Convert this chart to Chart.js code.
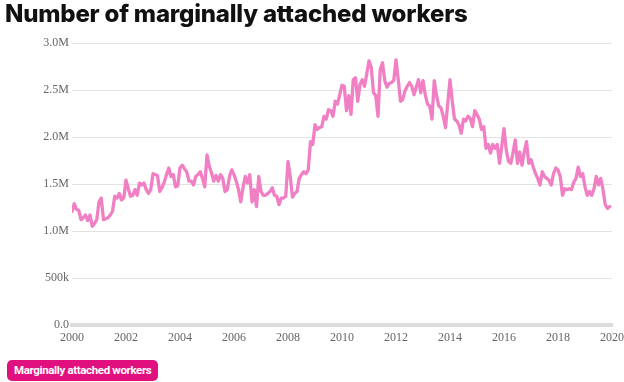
<!DOCTYPE html>
<html>
<head>
<meta charset="utf-8">
<script src="https://cdn.jsdelivr.net/npm/chart.js@4"></script>
<style>
  html, body { margin: 0; padding: 0; background: #fff; }
  #wrap { position: relative; width: 624px; height: 382px; overflow: hidden; }
  #title { position: absolute; left: 5px; top: -1px; font-family: Inter, "Open Sans", sans-serif; font-weight: 800; font-size: 24px; letter-spacing: -0.2px; color: #111; white-space: nowrap; line-height: 30px; }
  #legend { position: absolute; left: 7px; top: 360px; height: 21px; padding: 0 7px; border-radius: 5px; background: #e0117f; color: #fff; font-family: Roboto, sans-serif; font-weight: 700; font-size: 11.5px; letter-spacing: -0.35px; line-height: 21px; white-space: nowrap; }
  #c { position: absolute; left: 0; top: 0; }
</style>
</head>
<body>
<div id="wrap">
  <canvas id="c" width="650" height="382"></canvas>
  <div id="title">Number of marginally attached workers</div>
  <div id="legend">Marginally attached workers</div>
</div>
<script>
// Monthly values (millions), Jan 2000 .. Dec 2019
const startYear = 2000;
const seriesName = 'Marginally attached workers';
const values2000 = [1.21,1.29,1.23,1.22,1.12,1.14,1.17,1.11,1.17,1.05,1.08,1.12];
const values2001 = [1.31,1.35,1.12,1.13,1.14,1.17,1.21,1.37,1.35,1.40,1.33,1.35];
const values2002 = [1.54,1.45,1.37,1.38,1.44,1.38,1.51,1.49,1.51,1.44,1.40,1.44];
const values2003 = [1.61,1.60,1.59,1.42,1.46,1.52,1.60,1.67,1.58,1.60,1.47,1.48];
const values2004 = [1.67,1.70,1.66,1.63,1.53,1.53,1.49,1.58,1.60,1.63,1.56,1.47];
const values2005 = [1.81,1.69,1.62,1.53,1.59,1.53,1.60,1.56,1.42,1.44,1.58,1.65];
const values2006 = [1.60,1.53,1.44,1.31,1.46,1.58,1.51,1.60,1.31,1.44,1.26,1.58];
const values2007 = [1.42,1.38,1.38,1.40,1.42,1.46,1.38,1.37,1.28,1.35,1.35,1.37];
const values2008 = [1.74,1.58,1.36,1.40,1.42,1.56,1.60,1.63,1.61,1.65,1.95,1.92];
const values2009 = [2.13,2.08,2.10,2.11,2.22,2.19,2.29,2.28,2.22,2.38,2.35,2.45];
const values2010 = [2.55,2.54,2.28,2.44,2.24,2.61,2.63,2.38,2.56,2.61,2.54,2.67];
const values2011 = [2.81,2.74,2.47,2.44,2.22,2.72,2.79,2.60,2.53,2.57,2.58,2.60];
const values2012 = [2.82,2.61,2.38,2.40,2.49,2.54,2.58,2.54,2.45,2.53,2.61,2.47];
const values2013 = [2.60,2.45,2.35,2.33,2.19,2.60,2.44,2.33,2.31,2.22,2.10,2.36];
const values2014 = [2.61,2.38,2.19,2.17,2.13,2.04,2.19,2.17,2.22,2.20,2.11,2.28];
const values2015 = [2.24,2.19,2.08,2.11,1.88,1.92,1.83,1.92,1.88,1.92,1.72,1.90];
const values2016 = [2.09,1.86,1.74,1.72,1.83,1.97,1.72,1.84,1.70,1.84,1.95,1.72];
const values2017 = [1.76,1.68,1.61,1.56,1.49,1.63,1.58,1.56,1.54,1.49,1.61,1.67];
const values2018 = [1.65,1.58,1.38,1.45,1.44,1.45,1.44,1.52,1.56,1.68,1.58,1.61];
const values2019 = [1.47,1.38,1.42,1.38,1.45,1.58,1.49,1.56,1.44,1.28,1.24,1.26];

const yTickLabels = ['0.0','500k','1.0M','1.5M','2.0M','2.5M','3.0M'];
const xTickLabels = ['2000','2002','2004','2006','2008','2010','2012','2014','2016','2018','2020'];

const allYears = [values2000,values2001,values2002,values2003,values2004,values2005,values2006,values2007,values2008,values2009,values2010,values2011,values2012,values2013,values2014,values2015,values2016,values2017,values2018,values2019];
const points = [];
allYears.forEach((arr, yi) => arr.forEach((v, m) => points.push({x: startYear + yi + m / 12, y: v * 1e6})));

const serif = '"Liberation Serif", "DejaVu Serif", serif';
new Chart(document.getElementById('c'), {
  type: 'line',
  data: { datasets: [{
    label: seriesName, data: points,
    borderColor: '#f07fc4', borderWidth: 3.3, pointRadius: 0, tension: 0, fill: false,
    borderJoinStyle: 'round', borderCapStyle: 'round'
  }]},
  options: {
    responsive: false, animation: false,
    layout: { padding: { left: 0, right: 38, top: 43, bottom: 37 } },
    plugins: { legend: { display: false }, title: { display: false }, tooltip: { enabled: false } },
    scales: {
      x: {
        type: 'linear', min: 2000, max: 2020,
        afterFit(s) { s.height = 20; },
        grid: { display: false, drawTicks: false },
        border: { display: true, color: '#dcdcdc', width: 4 },
        ticks: { stepSize: 2, padding: 6, maxRotation: 0, color: '#666', font: { family: serif, size: 12 },
          callback: (v) => { const i = Math.round((v - 2000) / 2); return xTickLabels[i] ?? ''; } }
      },
      y: {
        min: 0, max: 3e6,
        afterFit(s) { s.width = 72; },
        grid: { color: '#e3e3e3', lineWidth: 1, drawTicks: false },
        border: { display: false },
        ticks: { stepSize: 5e5, padding: 3, color: '#666', font: { family: serif, size: 12 },
          callback: (v) => yTickLabels[Math.round(v / 5e5)] ?? '' }
      }
    }
  }
});
</script>
</body>
</html>
